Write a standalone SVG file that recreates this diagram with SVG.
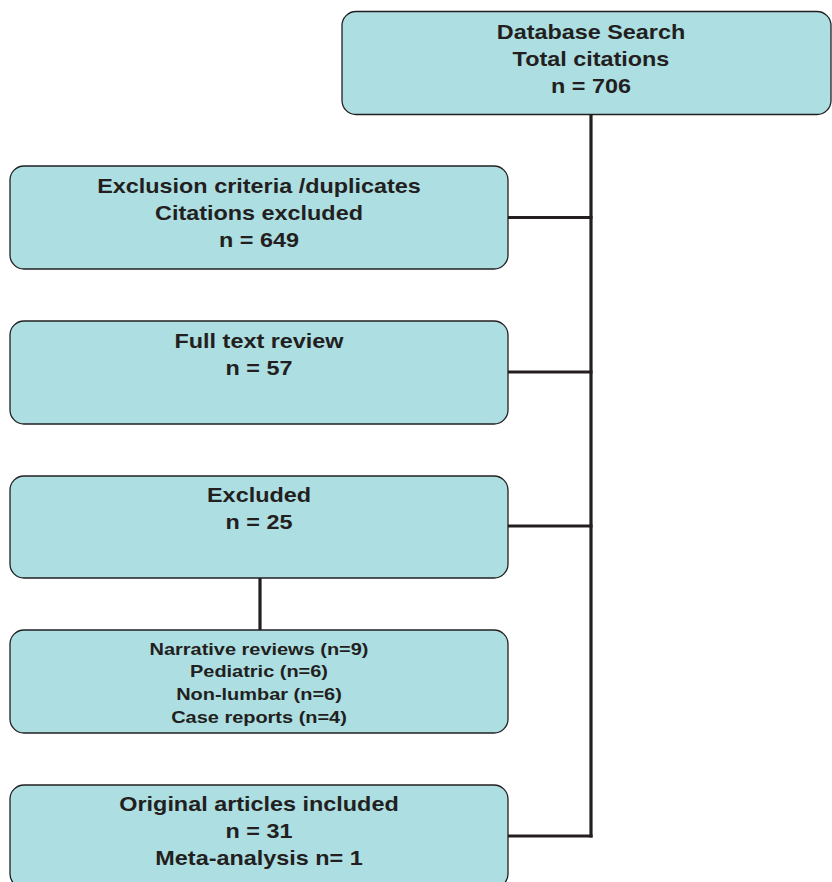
<svg xmlns="http://www.w3.org/2000/svg" width="832" height="882" viewBox="0 0 832 882">
  <style>
    .box { fill: #acdee2; stroke: #231f20; stroke-width: 1.3; }
    .lbl { font-family: "Liberation Sans", Arial, sans-serif; font-weight: bold; font-size: 20px; fill: #231f20; text-anchor: middle; }
    .sm { font-size: 16.5px; }
    .conn { fill: none; stroke: #231f20; stroke-width: 3.2; stroke-linecap: butt; }
  </style>
  <rect width="832" height="882" fill="#ffffff"/>
  <g id="connectors">
    <path class="conn" d="M591 114 V837.5"/>
    <path class="conn" d="M508 217.5 H592.5"/>
    <path class="conn" d="M508 372 H592.5"/>
    <path class="conn" d="M508 526 H592.5"/>
    <path class="conn" d="M508 836 H592.5"/>
    <path class="conn" d="M260 578 V630"/>
  </g>
  <g id="database-search">
    <rect class="box" x="342" y="11.5" width="489" height="103" rx="14"/>
    <g transform="translate(591,0) scale(1.17,1)">
      <text class="lbl" x="0" y="39">Database Search</text>
      <text class="lbl" x="0" y="66">Total citations</text>
      <text class="lbl" x="0" y="93">n = 706</text>
    </g>
  </g>
  <g id="exclusion-criteria">
    <rect class="box" x="10" y="166" width="498" height="103" rx="14"/>
    <g transform="translate(259,0) scale(1.17,1)">
      <text class="lbl" x="0" y="193">Exclusion criteria /duplicates</text>
      <text class="lbl" x="0" y="220">Citations excluded</text>
      <text class="lbl" x="0" y="247">n = 649</text>
    </g>
  </g>
  <g id="full-text-review">
    <rect class="box" x="10" y="321" width="498" height="103" rx="14"/>
    <g transform="translate(259,0) scale(1.17,1)">
      <text class="lbl" x="0" y="348">Full text review</text>
      <text class="lbl" x="0" y="375">n = 57</text>
    </g>
  </g>
  <g id="excluded">
    <rect class="box" x="10" y="476" width="498" height="102" rx="14"/>
    <g transform="translate(259,0) scale(1.17,1)">
      <text class="lbl" x="0" y="502">Excluded</text>
      <text class="lbl" x="0" y="529">n = 25</text>
    </g>
  </g>
  <g id="excluded-reasons">
    <rect class="box" x="10" y="630" width="498" height="103" rx="14"/>
    <g transform="translate(259,0) scale(1.21,1)">
      <text class="lbl sm" x="0" y="655">Narrative reviews (n=9)</text>
      <text class="lbl sm" x="0" y="677">Pediatric (n=6)</text>
      <text class="lbl sm" x="0" y="700">Non-lumbar (n=6)</text>
      <text class="lbl sm" x="0" y="723">Case reports (n=4)</text>
    </g>
  </g>
  <g id="included">
    <rect class="box" x="10" y="785" width="498" height="103" rx="14"/>
    <g transform="translate(259,0) scale(1.17,1)">
      <text class="lbl" x="0" y="811">Original articles included</text>
      <text class="lbl" x="0" y="838">n = 31</text>
      <text class="lbl" x="0" y="865">Meta-analysis n= 1</text>
    </g>
  </g>
</svg>
